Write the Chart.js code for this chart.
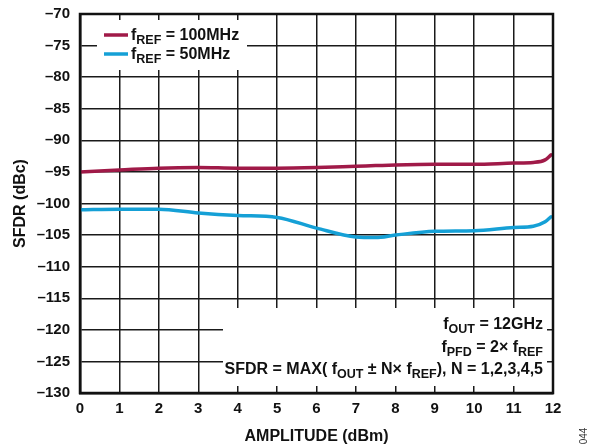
<!DOCTYPE html>
<html>
<head>
<meta charset="utf-8">
<script src="https://cdn.jsdelivr.net/npm/chart.js@4/dist/chart.umd.min.js"></script>
<style>
  html, body { margin: 0; padding: 0; background: #fff; }
  #wrap { width: 591px; height: 446px; position: relative; }
</style>
</head>
<body>
<div id="wrap"><canvas id="chart"></canvas></div>
<script>
// ─── Data ───────────────────────────────────────────────────────────────────

const amplitude = [0, 1, 2, 3, 4, 5, 6, 7, 7.5, 8, 9, 10, 11, 11.5, 11.8, 11.95];
const sfdrRef100 = [-95.0, -94.7, -94.4, -94.3, -94.4, -94.4, -94.3, -94.1, -94.0, -93.9, -93.8, -93.8, -93.6, -93.5, -93.1, -92.3];
const sfdrRef50  = [-101.0, -100.9, -100.9, -101.5, -101.9, -102.2, -103.9, -105.3, -105.4, -105.0, -104.4, -104.3, -103.8, -103.6, -102.9, -102.1];

const xTicks = [0, 1, 2, 3, 4, 5, 6, 7, 8, 9, 10, 11, 12];
const yTicks = [-70, -75, -80, -85, -90, -95, -100, -105, -110, -115, -120, -125, -130];

const RED  = '#a01a48';
const BLUE = '#15a0d6';
const FONT = 'Liberation Sans, Arial, sans-serif';

const toPts = (ys) => amplitude.map((x, i) => ({ x, y: ys[i] }));

// ─── Rich text with subscripts ───────────────────────────────────────────────

// runs: [text, isSub]
function runsWidth(ctx, runs) {
  let w = 0;
  runs.forEach(([t, sub]) => {
    ctx.font = `bold ${sub ? 12.5 : 16}px ${FONT}`;
    w += ctx.measureText(t).width;
  });
  return w;
}

function drawRuns(ctx, runs, x, y, align) {
  let cx = align === 'right' ? x - runsWidth(ctx, runs) : x;
  ctx.textBaseline = 'alphabetic';
  ctx.textAlign = 'left';
  ctx.fillStyle = '#111';
  runs.forEach(([t, sub]) => {
    ctx.font = `bold ${sub ? 12.5 : 16}px ${FONT}`;
    ctx.fillText(t, cx, sub ? y + 4 : y);
    cx += ctx.measureText(t).width;
  });
}

// ─── Boxes, legend, notes, frame ─────────────────────────────────────────────

const overlayPlugin = {
  id: 'overlay',
  beforeDatasetsDraw(chart) {
    const ctx = chart.ctx;
    ctx.save();
    ctx.fillStyle = '#fff';
    ctx.fillRect(97, 20, 150, 50);    // legend box
    ctx.fillRect(223, 308, 324, 78);  // notes box
    ctx.restore();
  },
  afterDatasetsDraw(chart) {
    const { left, right, top, bottom } = chart.chartArea;
    const ctx = chart.ctx;
    ctx.save();
    ctx.strokeStyle = '#111';
    ctx.lineWidth = 2.5;
    ctx.strokeRect(left, top, right - left, bottom - top);
    ctx.restore();
  },
  afterDraw(chart) {
    const ctx = chart.ctx;
    ctx.save();

    // legend
    [[RED, '100MHz', 35], [BLUE, '50MHz', 54]].forEach(([c, label, y]) => {
      ctx.strokeStyle = c;
      ctx.lineWidth = 3.5;
      ctx.beginPath();
      ctx.moveTo(104, y);
      ctx.lineTo(128, y);
      ctx.stroke();
      drawRuns(ctx, [['f', 0], ['REF', 1], [' = ' + label, 0]], 131, y + 5, 'left');
    });

    // notes
    drawRuns(ctx, [['f', 0], ['OUT', 1], [' = 12GHz', 0]], 543, 329, 'right');
    drawRuns(ctx, [['f', 0], ['PFD', 1], [' = 2× f', 0], ['REF', 1]], 543, 352, 'right');
    drawRuns(ctx, [['SFDR = MAX( f', 0], ['OUT', 1], [' ± N× f', 0], ['REF', 1], ['), N = 1,2,3,4,5', 0]], 543, 374, 'right');

    // figure number
    ctx.translate(584, 436);
    ctx.rotate(-Math.PI / 2);
    ctx.font = `10px ${FONT}`;
    ctx.fillStyle = '#333';
    ctx.textAlign = 'center';
    ctx.textBaseline = 'middle';
    ctx.fillText('044', 0, 0);
    ctx.restore();
  },
};

// ─── Chart ───────────────────────────────────────────────────────────────────

const gridStyle = { color: '#1a1a1a', lineWidth: 1.5, drawTicks: false };
const tickFont = { family: FONT, size: 15, weight: 'bold' };
const titleFont = { family: FONT, size: 16, weight: 'bold' };

new Chart(document.getElementById('chart'), {
  type: 'line',
  data: {
    datasets: [
      { label: 'fREF = 100MHz', data: toPts(sfdrRef100), borderColor: RED },
      { label: 'fREF = 50MHz', data: toPts(sfdrRef50), borderColor: BLUE },
    ],
  },
  options: {
    responsive: true,
    maintainAspectRatio: false,
    animation: false,
    layout: { padding: { top: 14, right: 38, left: 0, bottom: 0 } },
    elements: {
      line: { borderWidth: 3.5, cubicInterpolationMode: 'monotone', borderCapStyle: 'round' },
      point: { radius: 0 },
    },
    plugins: {
      legend: { display: false },
      tooltip: { enabled: false },
    },
    scales: {
      x: {
        type: 'linear',
        min: 0,
        max: 12,
        afterBuildTicks: (s) => { s.ticks = xTicks.map((v) => ({ value: v })); },
        afterFit: (s) => { s.height = 53; s.paddingLeft = 0; s.paddingRight = 0; },
        ticks: { color: '#111', font: tickFont, padding: 7, maxRotation: 0 },
        grid: gridStyle,
        border: { color: '#111', width: 2.5 },
        title: {
          display: true,
          text: 'AMPLITUDE (dBm)',
          color: '#111',
          font: titleFont,
          padding: { top: 0, bottom: 0 },
        },
      },
      y: {
        min: -130,
        max: -70,
        afterBuildTicks: (s) => { s.ticks = yTicks.map((v) => ({ value: v })); },
        afterFit: (s) => { s.width = 80; s.paddingTop = 0; s.paddingBottom = 0; },
        ticks: {
          color: '#111',
          font: tickFont,
          padding: 10,
          callback: (v) => String(v).replace('-', '–'),
        },
        grid: gridStyle,
        border: { color: '#111', width: 2.5 },
        title: {
          display: true,
          text: 'SFDR (dBc)',
          color: '#111',
          font: titleFont,
          padding: { top: 11, bottom: 0 },
        },
      },
    },
  },
  plugins: [overlayPlugin],
});
</script>
</body>
</html>
